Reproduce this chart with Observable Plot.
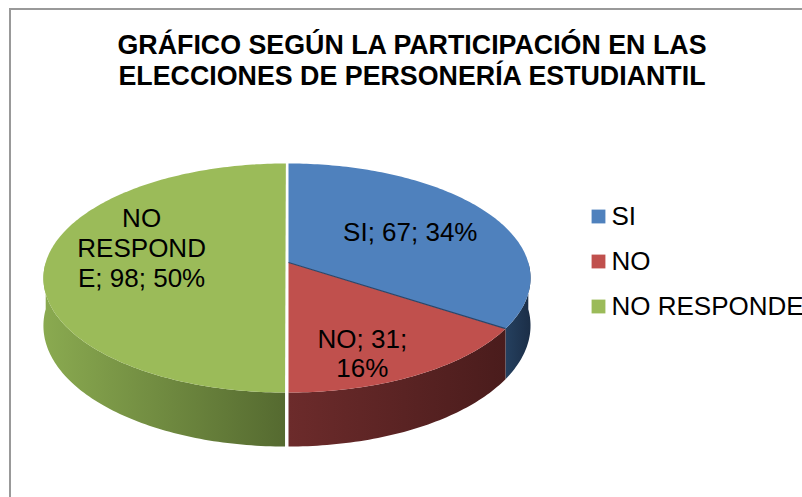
<!DOCTYPE html>
<html>
<head>
<meta charset="utf-8">
<script src="https://cdn.jsdelivr.net/npm/d3@7"></script>
<script src="https://cdn.jsdelivr.net/npm/@observablehq/plot@0.6"></script>
<style>
  html, body { margin: 0; padding: 0; background: #fff; }
  #wrap { position: relative; width: 802px; height: 497px; overflow: hidden; background: #fff;
          font-family: "Liberation Sans", Arial, sans-serif; }
  #frame { position: absolute; left: 9px; top: 8px; width: 900px; height: 600px;
           border-left: 2px solid #999; border-top: 2px solid #999; box-sizing: border-box; }
  #title { position: absolute; left: 22px; width: 780px; top: 30px; text-align: center;
           font-weight: bold; font-size: 26.8px; line-height: 31px; color: #000; }
  #pie { position: absolute; left: 0; top: 110px; }
  #legend { position: absolute; left: 584px; top: 180px; }
</style>
</head>
<body>
<div id="wrap">
  <div id="frame"></div>
  <div id="title">GRÁFICO SEGÚN LA PARTICIPACIÓN EN LAS<br>ELECCIONES DE PERSONERÍA ESTUDIANTIL</div>
  <div id="pie"></div>
  <div id="legend"></div>
</div>
<script>
// ---- data ----
const categories = ["SI", "NO", "NO RESPONDE"];
const values = [67, 31, 98];
const percents = [34, 16, 50];
const labelText = ["SI; 67; 34%", "NO; 31;\n16%", "NO\nRESPOND\nE; 98; 50%"];

// ---- style ----
const topColors = ["#4F81BD", "#C0504D", "#9BBB59"];
const sideColors = [["#25405F", "#1B2E47"], ["#6C2B2B", "#4A1C1C"], ["#8AAA50", "#556A30"]];
const explodedIndex = 2, explodeDist = 0.0125;
const persp = 0.1354, depth = 0.4155;

const total = d3.sum(values);
const TAU = 2 * Math.PI;
function proj(u, v, down = 0) {
  const k = 1 + persp * v;
  return {x: u / k, y: (v - down) / k};
}
let cum = 0;
const slices = values.map((val, i) => {
  const a0 = cum / total * TAU; cum += val; const a1 = cum / total * TAU;
  const m = (a0 + a1) / 2;
  const e = i === explodedIndex ? explodeDist : 0;
  return {i, cat: categories[i], a0, a1, m, ox: e * Math.sin(m), oy: e * Math.cos(m)};
});
function arc(s, a0, a1, down) {
  const n = Math.max(2, Math.ceil((a1 - a0) / (Math.PI / 180)));
  const pts = [];
  for (let k = 0; k <= n; k++) {
    const a = a0 + (a1 - a0) * k / n;
    pts.push({...proj(s.ox + Math.sin(a), s.oy + Math.cos(a), down), cat: s.cat});
  }
  return pts;
}
const tops = slices.flatMap(s => {
  const c = {...proj(s.ox, s.oy), cat: s.cat};
  return [c, ...arc(s, s.a0, s.a1, 0), c];
});
const walls = slices.map(s => {
  const lo = Math.max(s.a0, Math.PI / 2), hi = Math.min(s.a1, 1.5 * Math.PI);
  if (lo >= hi) return [];
  return [...arc(s, lo, hi, 0), ...arc(s, lo, hi, depth).reverse()];
});
const boundaries = slices.filter((s, i) => i !== explodedIndex && (i + 1) % slices.length !== explodedIndex)
  .map(s => { const c = proj(s.ox, s.oy), r = proj(s.ox + Math.sin(s.a1), s.oy + Math.cos(s.a1)); return {x1: c.x, y1: c.y, x2: r.x, y2: r.y}; });
const labels = slices.map(s => {
  const f = 0.6;
  const pt = proj(s.ox + f * Math.sin(s.m), s.oy + f * Math.cos(s.m));
  const nLines = labelText[s.i].split("\n").length;
  return {...pt, text: labelText[s.i], anchor: Math.cos(s.m) < -0.3 ? "top" : "middle",
          dy: -Math.max(0, nLines - 2) * 15};
});

const cx = 288, A = 239.8, cy = 152, B = 112.4;
const pie = Plot.plot({
  width: 580, height: 387, margin: 0,
  x: {domain: [-1, 1], range: [cx - A, cx + A], axis: null},
  y: {domain: [-1, 1], range: [cy + B, cy - B], axis: null},
  color: {domain: categories, range: topColors},
  style: {fontFamily: "'Liberation Sans', Arial, sans-serif", background: "transparent", overflow: "visible"},
  marks: [
    ...walls.map((w, i) => Plot.line(w, {x: "x", y: "y", fill: `url(#side${i})`, stroke: "none"})),
    Plot.line(tops, {x: "x", y: "y", z: "cat", fill: "cat", stroke: "none"}),
    Plot.link(boundaries, {x1: "x1", y1: "y1", x2: "x2", y2: "y2", stroke: "#2A4669", strokeWidth: 1.3}),
    ...labels.map(l => Plot.text([l], {x: "x", y: "y", text: "text", fontSize: 26, lineHeight: 1.15,
      lineAnchor: l.anchor, dy: l.dy, fill: "#000"}))
  ]
});
const ns = "http://www.w3.org/2000/svg";
const defs = document.createElementNS(ns, "defs");
sideColors.forEach((c, i) => {
  const g = document.createElementNS(ns, "linearGradient");
  g.setAttribute("id", `side${i}`);
  g.setAttribute("x1", "0"); g.setAttribute("y1", "0"); g.setAttribute("x2", "1"); g.setAttribute("y2", "0");
  c.forEach((col, j) => {
    const st = document.createElementNS(ns, "stop");
    st.setAttribute("offset", j === 0 ? "0" : "1");
    st.setAttribute("stop-color", col);
    g.appendChild(st);
  });
  defs.appendChild(g);
});
pie.insertBefore(defs, pie.firstChild);
document.getElementById("pie").appendChild(pie);

const legend = Plot.plot({
  width: 218, height: 150, margin: 0,
  y: {type: "point", domain: categories, range: [35, 126], padding: 0, axis: null},
  color: {domain: categories, range: topColors},
  style: {fontFamily: "'Liberation Sans', Arial, sans-serif", background: "transparent"},
  marks: [
    Plot.dot(categories, {y: d => d, fill: d => d, symbol: "square", r: 7.8, frameAnchor: "left", dx: 14, stroke: "none"}),
    Plot.text(categories, {y: d => d, text: d => d, frameAnchor: "left", textAnchor: "start", dx: 27, fontSize: 26, fill: "#000"})
  ]
});
document.getElementById("legend").appendChild(legend);
</script>
</body>
</html>
